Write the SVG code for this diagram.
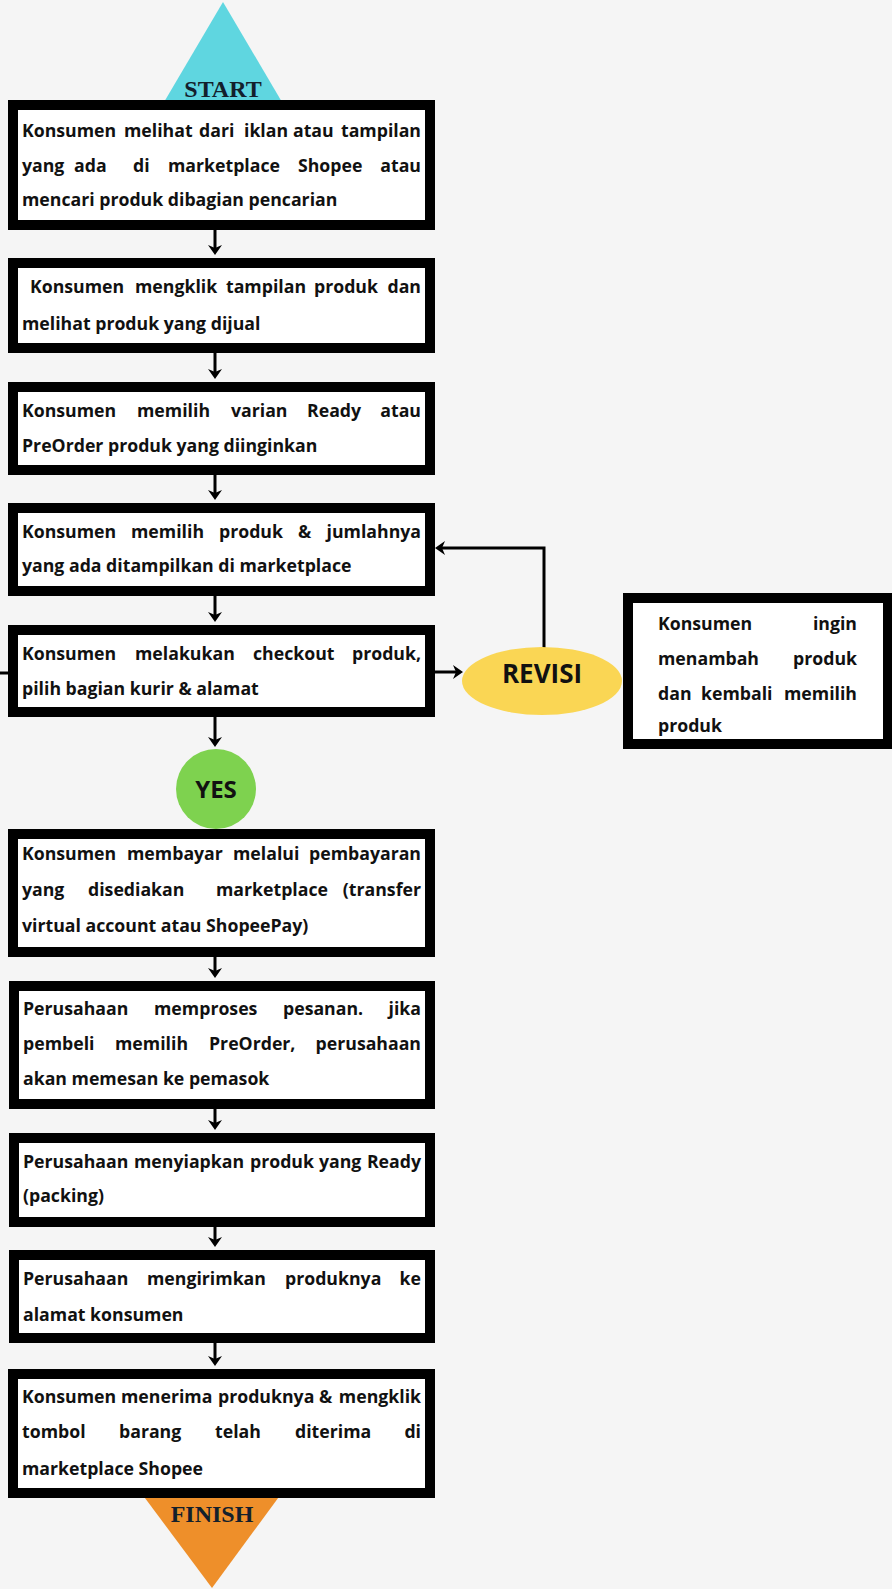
<svg xmlns="http://www.w3.org/2000/svg" width="892" height="1589" viewBox="0 0 892 1589">
<style>
.box{fill:#fff;stroke:#000;stroke-width:10}
.t{font-family:"Open Sans","Noto Sans",sans-serif;font-weight:700;font-size:17.7px;fill:#111}
.e{text-anchor:end}
.ser{font-family:"Liberation Serif",serif;font-weight:700;font-size:24px;fill:#13202c;text-anchor:middle}
.lbl{font-family:"Open Sans","Noto Sans",sans-serif;font-weight:700;fill:#111;text-anchor:middle}
.c{fill:none;stroke:#000;stroke-width:3}
</style>
<defs>
<marker id="ah" viewBox="0 0 10 14" refX="7" refY="7" markerWidth="10" markerHeight="14" markerUnits="userSpaceOnUse" orient="auto">
<path d="M0,0 L10,7 L0,14 L3,7 z" fill="#000"/>
</marker>
</defs>
<rect width="892" height="1589" fill="#f5f5f5"/>

<g id="start">
<polygon points="223,2 157,114 289,114" fill="#5fd6e0"/>
<text class="ser" x="223" y="97">START</text>
</g>

<g id="finish">
<polygon points="139,1490 284,1490 212,1588" fill="#ee8f2a"/>
<text class="ser" x="212" y="1522" fill="#2a1405">FINISH</text>
</g>

<g id="connectors">
<path class="c" d="M215,230 V252" marker-end="url(#ah)"/>
<path class="c" d="M215,353 V376" marker-end="url(#ah)"/>
<path class="c" d="M215,475 V497" marker-end="url(#ah)"/>
<path class="c" d="M215,596 V619" marker-end="url(#ah)"/>
<path class="c" d="M215,717 V744" marker-end="url(#ah)"/>
<path class="c" d="M215,957 V975" marker-end="url(#ah)"/>
<path class="c" d="M215,1109 V1127" marker-end="url(#ah)"/>
<path class="c" d="M215,1227 V1244" marker-end="url(#ah)"/>
<path class="c" d="M215,1343 V1363" marker-end="url(#ah)"/>
<path class="c" d="M435,672 H460" marker-end="url(#ah)"/>
<path class="c" d="M544,648 V548 H438" marker-end="url(#ah)"/>
<path class="c" d="M0,673 H8"/>
</g>

<g id="n1">
<rect class="box" x="13" y="105" width="417" height="120"/>
<text class="t" y="137"><tspan x="22">Konsumen</tspan><tspan x="124">melihat</tspan><tspan x="199">dari</tspan><tspan x="244">iklan</tspan><tspan x="293">atau</tspan></text>
<text class="t e" x="421" y="137">tampilan</text>
<text class="t" y="172"><tspan x="22">yang</tspan><tspan x="74">ada</tspan><tspan x="133">di</tspan><tspan x="168">marketplace</tspan><tspan x="298">Shopee</tspan></text>
<text class="t e" x="421" y="172">atau</text>
<text class="t" x="22" y="206">mencari produk dibagian pencarian</text>
</g>

<g id="n2">
<rect class="box" x="13" y="263" width="417" height="85"/>
<text class="t" y="293"><tspan x="30">Konsumen</tspan><tspan x="135">mengklik</tspan><tspan x="226">tampilan</tspan><tspan x="314">produk</tspan></text>
<text class="t e" x="421" y="293">dan</text>
<text class="t" x="22" y="330">melihat produk yang dijual</text>
</g>

<g id="n3">
<rect class="box" x="13" y="387" width="417" height="83"/>
<text class="t" y="417"><tspan x="22">Konsumen</tspan><tspan x="137">memilih</tspan><tspan x="231">varian</tspan><tspan x="307">Ready</tspan></text>
<text class="t e" x="421" y="417">atau</text>
<text class="t" x="22" y="452">PreOrder produk yang diinginkan</text>
</g>

<g id="n4">
<rect class="box" x="13" y="508" width="417" height="83"/>
<text class="t" y="538"><tspan x="22">Konsumen</tspan><tspan x="131">memilih</tspan><tspan x="219">produk</tspan><tspan x="298">&amp;</tspan></text>
<text class="t e" x="421" y="538">jumlahnya</text>
<text class="t" x="22" y="572">yang ada ditampilkan di marketplace</text>
</g>

<g id="n5">
<rect class="box" x="13" y="630" width="417" height="82"/>
<text class="t" y="660"><tspan x="22">Konsumen</tspan><tspan x="135">melakukan</tspan><tspan x="253">checkout</tspan></text>
<text class="t e" x="421" y="660">produk,</text>
<text class="t" x="22" y="695">pilih bagian kurir &amp; alamat</text>
</g>

<g id="revisi">
<ellipse cx="542" cy="681" rx="80" ry="34" fill="#fad654"/>
<text class="lbl" x="542" y="683" font-size="26">REVISI</text>
</g>

<g id="n-revisi">
<rect class="box" x="628" y="598" width="260" height="146"/>
<text class="t" x="658" y="630">Konsumen</text>
<text class="t e" x="857" y="630">ingin</text>
<text class="t" x="658" y="665">menambah</text>
<text class="t e" x="857" y="665">produk</text>
<text class="t" y="700"><tspan x="658">dan</tspan><tspan x="701">kembali</tspan></text>
<text class="t e" x="857" y="700">memilih</text>
<text class="t" x="658" y="732">produk</text>
</g>

<g id="yes">
<circle cx="216" cy="789" r="40" fill="#7ed24f"/>
<text class="lbl" x="216" y="798" font-size="24">YES</text>
</g>

<g id="n6">
<rect class="box" x="13" y="834" width="417" height="118"/>
<text class="t" y="860"><tspan x="22">Konsumen</tspan><tspan x="127">membayar</tspan><tspan x="233">melalui</tspan></text>
<text class="t e" x="421" y="860">pembayaran</text>
<text class="t" y="896"><tspan x="22">yang</tspan><tspan x="88">disediakan</tspan><tspan x="216">marketplace</tspan></text>
<text class="t e" x="421" y="896">(transfer</text>
<text class="t" x="22" y="932">virtual account atau ShopeePay)</text>
</g>

<g id="n7">
<rect class="box" x="14" y="986" width="416" height="118"/>
<text class="t" y="1015"><tspan x="23">Perusahaan</tspan><tspan x="154">memproses</tspan><tspan x="283">pesanan.</tspan></text>
<text class="t e" x="421" y="1015">jika</text>
<text class="t" y="1050"><tspan x="23">pembeli</tspan><tspan x="115">memilih</tspan><tspan x="209">PreOrder,</tspan></text>
<text class="t e" x="421" y="1050">perusahaan</text>
<text class="t" x="23" y="1085">akan memesan ke pemasok</text>
</g>

<g id="n8">
<rect class="box" x="14" y="1138" width="416" height="84"/>
<text class="t" y="1168"><tspan x="23">Perusahaan</tspan><tspan x="134">menyiapkan</tspan><tspan x="250">produk</tspan><tspan x="319">yang</tspan></text>
<text class="t e" x="421" y="1168">Ready</text>
<text class="t" x="23" y="1202">(packing)</text>
</g>

<g id="n9">
<rect class="box" x="14" y="1255" width="416" height="83"/>
<text class="t" y="1285"><tspan x="23">Perusahaan</tspan><tspan x="147">mengirimkan</tspan><tspan x="285">produknya</tspan></text>
<text class="t e" x="421" y="1285">ke</text>
<text class="t" x="23" y="1321">alamat konsumen</text>
</g>

<g id="n10">
<rect class="box" x="13" y="1374" width="417" height="119"/>
<text class="t" y="1403"><tspan x="22">Konsumen</tspan><tspan x="121">menerima</tspan><tspan x="218">produknya</tspan><tspan x="319">&amp;</tspan></text>
<text class="t e" x="421" y="1403">mengklik</text>
<text class="t" y="1438"><tspan x="22">tombol</tspan><tspan x="119">barang</tspan><tspan x="215">telah</tspan><tspan x="295">diterima</tspan></text>
<text class="t e" x="421" y="1438">di</text>
<text class="t" x="22" y="1475">marketplace Shopee</text>
</g>
</svg>
